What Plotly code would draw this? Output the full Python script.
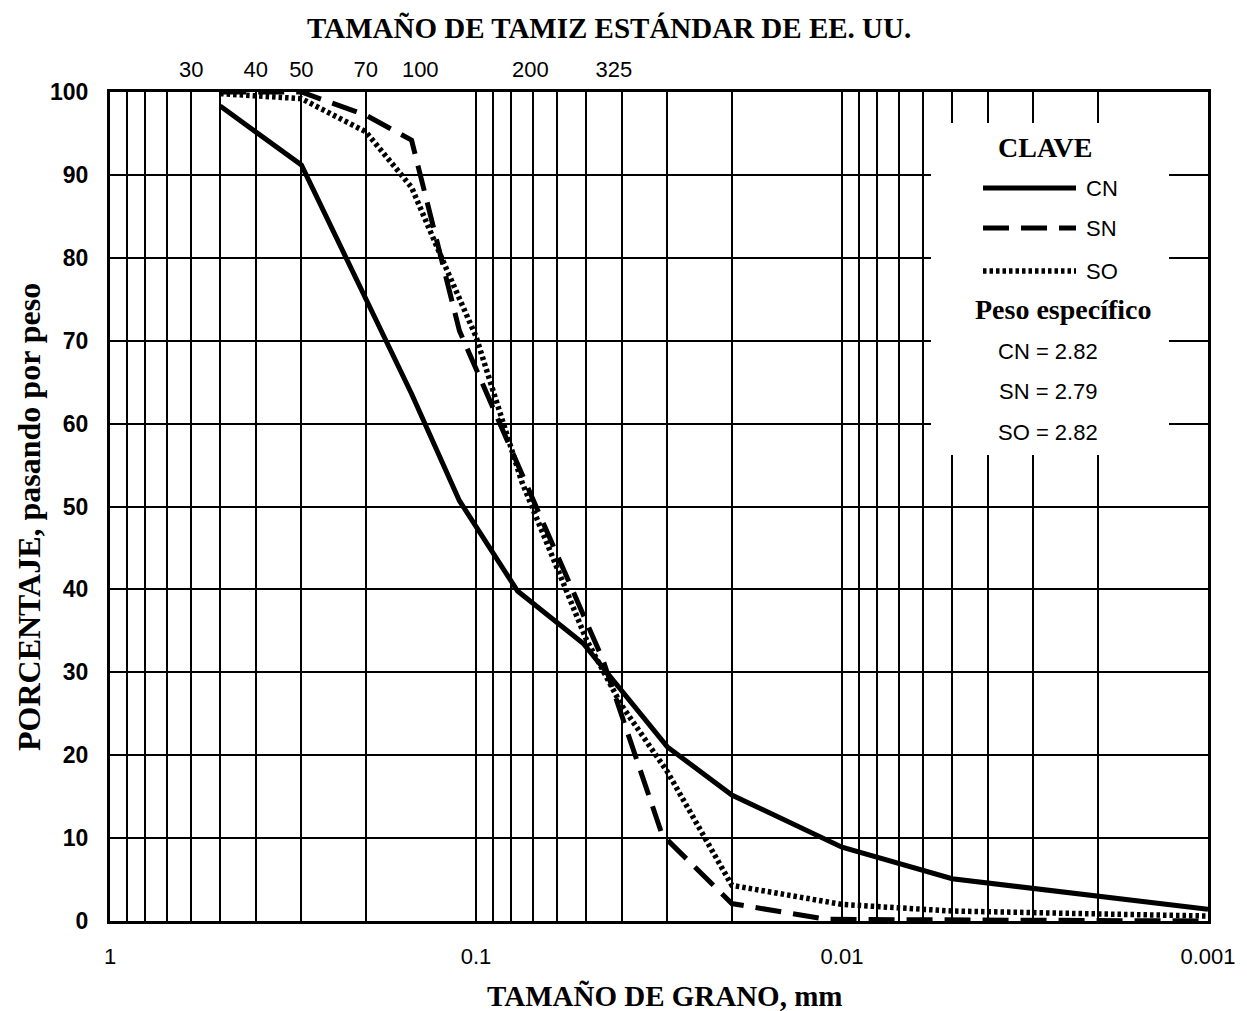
import plotly.graph_objects as go

# ---------------- data ----------------
cn_mm = [0.5, 0.3, 0.15, 0.111, 0.077, 0.051, 0.03, 0.02, 0.01, 0.005, 0.001]
cn_pct = [98.3, 91.2, 63.6, 50.7, 39.8, 33.5, 21.0, 15.2, 8.9, 5.1, 1.4]

sn_mm = [0.5, 0.3, 0.2, 0.15, 0.111, 0.045, 0.031, 0.02, 0.011, 0.001]
sn_pct = [100, 100, 97.2, 94.2, 71.2, 31.5, 10.4, 2.1, 0.2, 0.0]

so_mm = [0.5, 0.3, 0.2, 0.15, 0.125, 0.1, 0.075, 0.05, 0.04, 0.03, 0.02, 0.01, 0.005, 0.001]
so_pct = [99.8, 99.2, 95.2, 88.5, 80.3, 70.5, 53.0, 34.0, 26.0, 18.0, 4.3, 2.0, 1.2, 0.6]

grain_ticks = [1, 0.1, 0.01, 0.001]
grain_ticktext = ["1", "0.1", "0.01", "0.001"]

sieve_pos_mm = [0.6, 0.4, 0.3, 0.2, 0.142, 0.071, 0.042]
sieve_labels = ["30", "40", "50", "70", "100", "200", "325"]

pct_ticks = [0, 10, 20, 30, 40, 50, 60, 70, 80, 90, 100]

gravity_labels = ["CN = 2.82", "SN = 2.79", "SO = 2.82"]
series_names = ["CN", "SN", "SO"]

# ---------------- layout helpers (page pixel -> paper) ----------------
PAGE_OFF = 8                     # default body margin of the html page
W, H = 1247 - PAGE_OFF, 1011 - PAGE_OFF
L, R, T, B = 110, 1208, 92, 921  # plot area in page pixels


def px(x):
    return (x - L) / (R - L)


def py(y):
    return (B - y) / (B - T)


SERIF = "Liberation Serif, Times New Roman, serif"
SANS = "Liberation Sans, Arial, Helvetica, sans-serif"

dash_sn = "26px,12px"
dash_so = "3.5px,3px"
styles = {"CN": "solid", "SN": dash_sn, "SO": dash_so}
widths = {"CN": 5, "SN": 5, "SO": 5.5}

fig = go.Figure()
for name, xs, ys in [("CN", cn_mm, cn_pct), ("SN", sn_mm, sn_pct), ("SO", so_mm, so_pct)]:
    fig.add_trace(go.Scatter(
        x=xs, y=ys, mode="lines", name=name, showlegend=False,
        line=dict(color="black", width=widths[name], dash=styles[name]),
        hoverinfo="skip",
    ))

# hidden trace so the top sieve axis is drawn
fig.add_trace(go.Scatter(x=sieve_pos_mm, y=[None] * len(sieve_pos_mm), xaxis="x2",
                         mode="lines", showlegend=False, hoverinfo="skip"))

fig.update_layout(
    width=W, height=H,
    margin=dict(l=L - PAGE_OFF, r=W - (R - PAGE_OFF), t=T - PAGE_OFF, b=H - (B - PAGE_OFF)),
    paper_bgcolor="white", plot_bgcolor="white",
    xaxis=dict(
        type="log", range=[0, -3],
        tickvals=grain_ticks, ticktext=grain_ticktext,
        ticks="", showline=True, linecolor="black", linewidth=3, mirror=True,
        showgrid=True, gridcolor="black", gridwidth=1.8,
        minor=dict(dtick="D1", showgrid=True, gridcolor="black", gridwidth=1.8, ticks=""),
        tickfont=dict(family=SANS, size=22, color="black"),
        ticklabelstandoff=14, zeroline=False,
    ),
    xaxis2=dict(
        type="log", range=[0, -3], overlaying="x", side="top",
        tickvals=sieve_pos_mm, ticktext=sieve_labels, ticks="",
        showgrid=False, showline=False, zeroline=False,
        tickfont=dict(family=SANS, size=22, color="black"),
        ticklabelstandoff=10,
    ),
    yaxis=dict(
        range=[0, 100], tickvals=pct_ticks, ticks="",
        showline=True, linecolor="black", linewidth=3, mirror=True,
        showgrid=True, gridcolor="black", gridwidth=1.8, zeroline=False,
        tickfont=dict(family=SANS, size=23, color="black", weight="bold"),
        ticklabelstandoff=14,
    ),
)

# legend box (white panel over the grid)
fig.add_shape(type="rect", xref="paper", yref="paper",
              x0=px(931), x1=px(1169), y0=py(455), y1=py(123),
              fillcolor="white", line=dict(width=0), layer="above")

annots = []
annots.append(dict(text="<b>TAMAÑO DE TAMIZ ESTÁNDAR DE EE. UU.</b>", x=px(609), y=py(28),
                   font=dict(family=SERIF, size=29, color="black")))
annots.append(dict(text="<b>TAMAÑO DE GRANO, mm</b>", x=px(665), y=py(996),
                   font=dict(family=SERIF, size=29, color="black")))
annots.append(dict(text="<b>PORCENTAJE, pasando por peso</b>", x=px(29), y=py(517), textangle=-90,
                   font=dict(family=SERIF, size=32, color="black")))
annots.append(dict(text="<b>CLAVE</b>", x=px(1045), y=py(147),
                   font=dict(family=SERIF, size=28, color="black")))
annots.append(dict(text="<b>Peso específico</b>", x=px(1063), y=py(309),
                   font=dict(family=SERIF, size=28, color="black")))

legend_rows_y = [188, 228, 271]
for name, yy in zip(series_names, legend_rows_y):
    fig.add_shape(type="line", xref="paper", yref="paper",
                  x0=px(983), x1=px(1076), y0=py(yy), y1=py(yy),
                  line=dict(color="black", width=widths[name], dash=styles[name]), layer="above")
    annots.append(dict(text=name, x=px(1084), y=py(yy), xanchor="left",
                       font=dict(family=SANS, size=22, color="black")))

for txt, yy in zip(gravity_labels, [351, 391, 432]):
    annots.append(dict(text=txt, x=px(1048), y=py(yy),
                       font=dict(family=SANS, size=22, color="black")))

for a in annots:
    a.setdefault("xref", "paper")
    a.setdefault("yref", "paper")
    a.setdefault("showarrow", False)
    a.setdefault("xanchor", "center")
    a.setdefault("yanchor", "middle")
fig.update_layout(annotations=annots)

fig.write_html("out.html")
